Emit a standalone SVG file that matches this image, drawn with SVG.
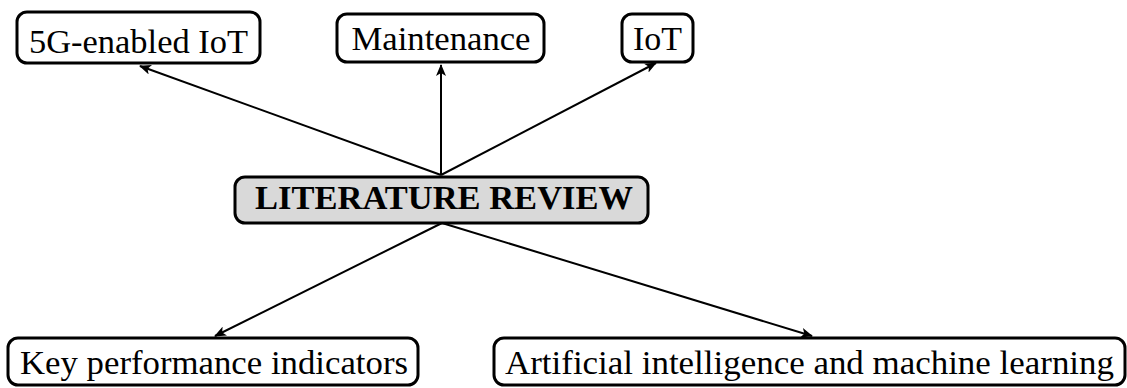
<svg xmlns="http://www.w3.org/2000/svg" width="1127" height="388" viewBox="0 0 1127 388">
  <defs>
    <marker id="arrow" viewBox="0 0 12 10" refX="11" refY="5" markerWidth="12" markerHeight="10" markerUnits="userSpaceOnUse" orient="auto">
      <path d="M0,0 L12,5 L0,10 L3,5 Z" fill="#000"/>
    </marker>
  </defs>
  <style>
    .box { fill: #fff; stroke: #000; stroke-width: 3; }
    .root { fill: #d9d9d9; stroke: #000; stroke-width: 3; }
    .label { font-family: "Liberation Serif", "DejaVu Serif", serif; font-size: 34px; fill: #000; text-anchor: middle; }
    .bold { font-weight: bold; }
    .edge { stroke: #000; stroke-width: 2; fill: none; marker-end: url(#arrow); }
  </style>

  <rect width="1127" height="388" fill="#fff"/>

  <g id="connectors">
    <line class="edge" x1="441" y1="175" x2="140" y2="66"/>
    <line class="edge" x1="441" y1="175" x2="441" y2="65"/>
    <line class="edge" x1="441" y1="175" x2="656" y2="63"/>
    <line class="edge" x1="442" y1="223" x2="215" y2="336"/>
    <line class="edge" x1="442" y1="223" x2="812" y2="336"/>
  </g>

  <g id="node-5g">
    <rect class="box" x="17" y="12" width="243" height="51" rx="10"/>
    <text class="label" x="138.5" y="53" textLength="219" lengthAdjust="spacingAndGlyphs">5G-enabled IoT</text>
  </g>

  <g id="node-maintenance">
    <rect class="box" x="337" y="14" width="207" height="48" rx="10"/>
    <text class="label" x="441" y="50" textLength="179" lengthAdjust="spacingAndGlyphs">Maintenance</text>
  </g>

  <g id="node-iot">
    <rect class="box" x="622" y="14" width="71" height="48" rx="10"/>
    <text class="label" x="657.5" y="50" textLength="49" lengthAdjust="spacingAndGlyphs">IoT</text>
  </g>

  <g id="node-literature-review">
    <rect class="root" x="235" y="177" width="413" height="46" rx="10"/>
    <text class="label bold" x="444" y="209" textLength="378" lengthAdjust="spacingAndGlyphs">LITERATURE REVIEW</text>
  </g>

  <g id="node-kpi">
    <rect class="box" x="8" y="338" width="410" height="47" rx="10"/>
    <text class="label" x="214" y="374" textLength="388" lengthAdjust="spacingAndGlyphs">Key performance indicators</text>
  </g>

  <g id="node-ai-ml">
    <rect class="box" x="494" y="338" width="631" height="47" rx="10"/>
    <text class="label" x="809.5" y="374" textLength="609" lengthAdjust="spacingAndGlyphs">Artificial intelligence and machine learning</text>
  </g>
</svg>
